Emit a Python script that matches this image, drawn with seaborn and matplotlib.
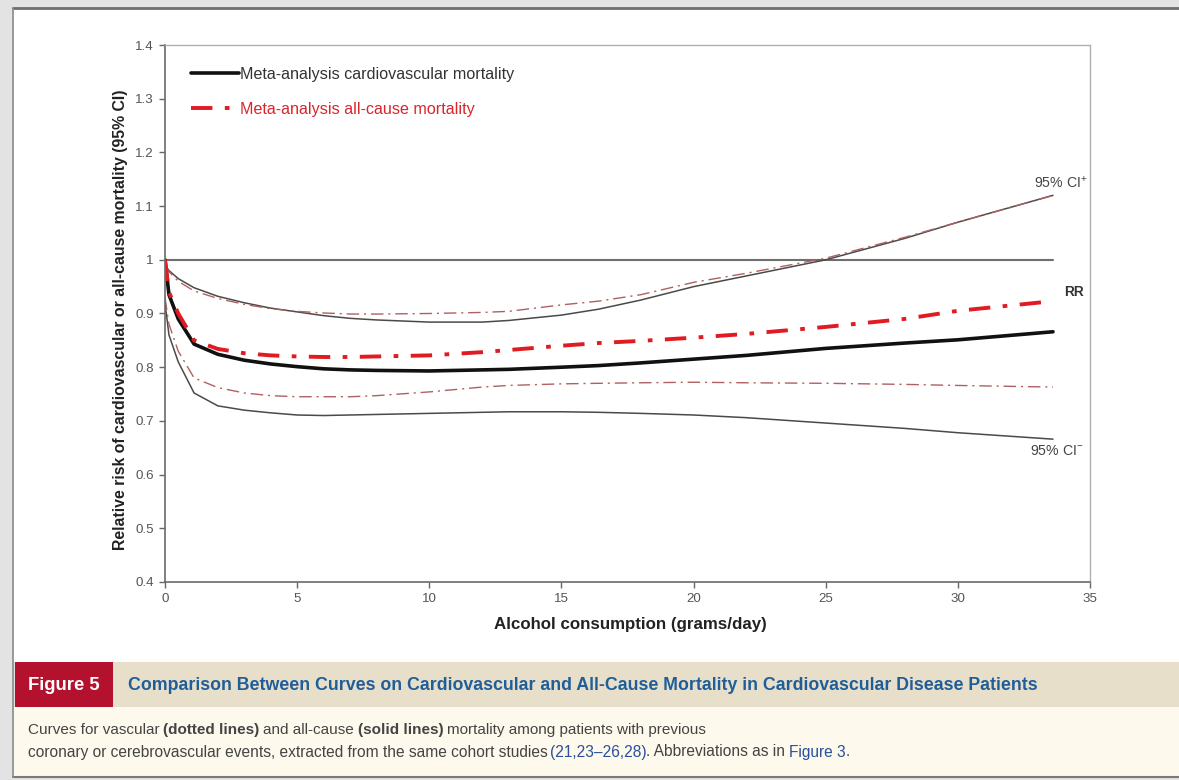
import matplotlib
matplotlib.use("Agg")
import numpy as np
import pandas as pd
import matplotlib.pyplot as plt
from matplotlib import font_manager
from matplotlib.patches import Rectangle
from matplotlib.lines import Line2D
from matplotlib.transforms import IdentityTransform
from matplotlib.ticker import FuncFormatter
import seaborn as sns

# ---- data: alcohol intake (g/day) and relative risk curves ----
alcohol_g = [0, 0.15, 0.5, 1.1, 2, 3, 4, 5, 6, 7, 8, 10, 12, 13, 15, 16.4,
             18, 20, 22, 25, 28, 30, 33.6]

# cardiovascular mortality (black)
cv_rr = [1.0, 0.935, 0.89, 0.843, 0.824, 0.813, 0.806, 0.801, 0.797, 0.795,
         0.794, 0.793, 0.795, 0.796, 0.800, 0.803, 0.808, 0.815, 0.822, 0.835,
         0.845, 0.851, 0.866]
cv_hi = [0.99, 0.98, 0.965, 0.948, 0.932, 0.920, 0.910, 0.903, 0.896, 0.891,
         0.888, 0.884, 0.884, 0.887, 0.897, 0.908, 0.925, 0.950, 0.970, 1.000,
         1.040, 1.070, 1.120]
cv_lo = [0.92, 0.86, 0.81, 0.752, 0.728, 0.720, 0.715, 0.711, 0.710, 0.711,
         0.712, 0.714, 0.716, 0.717, 0.717, 0.716, 0.714, 0.711, 0.706, 0.696,
         0.686, 0.678, 0.666]

# all-cause mortality (red)
ac_rr = [1.0, 0.94, 0.90, 0.850, 0.834, 0.826, 0.822, 0.820, 0.819, 0.819,
         0.820, 0.822, 0.828, 0.832, 0.840, 0.845, 0.849, 0.855, 0.862, 0.875,
         0.890, 0.905, 0.923]
ac_hi = [0.99, 0.978, 0.96, 0.942, 0.928, 0.917, 0.909, 0.904, 0.901, 0.899,
         0.899, 0.900, 0.902, 0.904, 0.916, 0.923, 0.935, 0.958, 0.975, 1.003,
         1.042, 1.070, 1.120]
ac_lo = [0.93, 0.88, 0.83, 0.780, 0.762, 0.752, 0.747, 0.745, 0.745, 0.745,
         0.747, 0.754, 0.763, 0.766, 0.769, 0.770, 0.771, 0.772, 0.771, 0.770,
         0.768, 0.766, 0.763]

reference_x = [0, 33.6]
reference_y = [1.0, 1.0]

y_ticks = [0.4, 0.5, 0.6, 0.7, 0.8, 0.9, 1.0, 1.1, 1.2, 1.3, 1.4]
x_ticks = [0, 5, 10, 15, 20, 25, 30, 35]

legend_labels = ["Meta-analysis cardiovascular mortality",
                 "Meta-analysis all-cause mortality"]

df = pd.DataFrame({"alcohol": alcohol_g, "cv_rr": cv_rr, "cv_hi": cv_hi,
                   "cv_lo": cv_lo, "ac_rr": ac_rr, "ac_hi": ac_hi,
                   "ac_lo": ac_lo})
ref = pd.DataFrame({"alcohol": reference_x, "rr": reference_y})

# ---- style ----
sns.set_style("white")
available = {f.name for f in font_manager.fontManager.ttflist}
BASE = "Liberation Sans" if "Liberation Sans" in available else "DejaVu Sans"
NARROW = "Liberation Sans Narrow" if "Liberation Sans Narrow" in available else BASE
plt.rcParams["font.family"] = [BASE, "DejaVu Sans"]
plt.rcParams["mathtext.fontset"] = "custom"
plt.rcParams["mathtext.rm"] = BASE

W, H = 1179, 780
fig = plt.figure(figsize=(W / 100, H / 100), dpi=100, facecolor="#e3e3e3")
PX = IdentityTransform()


def box(x0, y0, x1, y1, color):
    """Filled rectangle given in pixel coordinates measured from the top."""
    fig.add_artist(Rectangle((x0, H - y1), x1 - x0, y1 - y0, transform=PX,
                             facecolor=color, edgecolor="none", zorder=0))


def hline(x0, x1, y, color, lw):
    fig.add_artist(Line2D([x0, x1], [H - y, H - y], transform=PX, color=color,
                          lw=lw, zorder=1))


# page panel
box(13, 8, W + 5, 662, "white")
box(13, 707, W + 5, 777, "#fdf9ec")
box(113, 662, W + 5, 707, "#e8dfcb")
box(15, 662, 113, 707, "#b3112d")
hline(13, W + 5, 8, "#6e6e6e", 2.0)
hline(13, W + 5, 777, "#7a7a7a", 1.5)
fig.add_artist(Line2D([13, 13], [H - 8, H - 777], transform=PX,
                      color="#8a8a8a", lw=1.2, zorder=1))

# ---- chart ----
ax = fig.add_axes([165 / W, 1 - 582 / H, (1090 - 165) / W, (582 - 45) / H])
ax.set_facecolor("white")

sns.lineplot(data=ref, x="alcohol", y="rr", ax=ax, color="#6f6f6f", lw=1.5)

ci_black = dict(color="#4a4a4a", lw=1.1)
ci_red = dict(color="#b06060", lw=1.0, linestyle=(0, (9, 3.5, 1.5, 3.5)))
sns.lineplot(data=df, x="alcohol", y="cv_hi", ax=ax, **ci_black)
sns.lineplot(data=df, x="alcohol", y="cv_lo", ax=ax, **ci_black)
sns.lineplot(data=df, x="alcohol", y="ac_hi", ax=ax, **ci_red)
sns.lineplot(data=df, x="alcohol", y="ac_lo", ax=ax, **ci_red)

sns.lineplot(data=df, x="alcohol", y="cv_rr", ax=ax, color="#111111", lw=2.6,
             label=legend_labels[0])
sns.lineplot(data=df, x="alcohol", y="ac_rr", ax=ax, color="#e01b22", lw=2.8,
             linestyle=(0, (5.5, 3.2, 1.2, 3.2)), label=legend_labels[1])

ax.set_xlim(0, 35)
ax.set_ylim(0.4, 1.4)
ax.set_xticks(x_ticks)
ax.set_yticks(y_ticks)
ax.yaxis.set_major_formatter(FuncFormatter(lambda v, p: f"{v:g}"))
ax.tick_params(axis="both", which="major", direction="out", length=4,
               width=1, color="#666666", labelsize=9.6, labelcolor="#555555",
               pad=4, left=True, bottom=True)

for side in ("left", "bottom"):
    ax.spines[side].set_color("#6a6a6a")
    ax.spines[side].set_linewidth(1.2)
for side in ("top", "right"):
    ax.spines[side].set_color("#b0b0b0")
    ax.spines[side].set_linewidth(1.0)

ax.set_ylabel("Relative risk of cardiovascular or all-cause mortality (95% CI)",
              fontsize=11.4, fontweight="bold", color="#222222")
ax.yaxis.set_label_coords(-0.040, 0.488)
ax.set_xlabel("Alcohol consumption (grams/day)", fontsize=12.2,
              fontweight="bold", color="#222222")
ax.xaxis.set_label_coords(0.503, -0.066)

# curve labels at the right end
ax.text(34.9, 1.143, r"95% CI$^{+}$", ha="right", va="center", fontsize=10.2,
        color="#444444")
ax.text(34.75, 0.94, "RR", ha="right", va="center", fontsize=9.8,
        fontweight="bold", color="#333333")
ax.text(34.75, 0.644, r"95% CI$^{-}$", ha="right", va="center", fontsize=10.2,
        color="#444444")

handles, labels = ax.get_legend_handles_labels()
leg = ax.legend(handles, labels, loc="upper left", frameon=False,
                bbox_to_anchor=(191, H - 67), bbox_transform=PX,
                borderaxespad=0, borderpad=0, handlelength=3.0,
                handletextpad=0.06, labelspacing=1.22, fontsize=11.6)
for txt, col in zip(leg.get_texts(), ["#333333", "#d8262c"]):
    txt.set_color(col)

# ---- caption ----
renderer = fig.canvas.get_renderer()


def fitted_text(x, y, s, target_w, **kw):
    t = fig.text(x, H - y, s, transform=PX, va="center", ha="left", **kw)
    w = t.get_window_extent(renderer).width
    t.set_fontsize(t.get_fontsize() * target_w / w)
    return t


fitted_text(28, 685, "Figure 5", 72, fontsize=11, fontweight="bold",
            color="white", family=[NARROW, "DejaVu Sans"])
fitted_text(128, 685,
            "Comparison Between Curves on Cardiovascular and All-Cause "
            "Mortality in Cardiovascular Disease Patients", 913,
            fontsize=10.5, fontweight="bold", color="#1f5e98",
            family=[NARROW, "DejaVu Sans"])


def run_line(x0, y, runs, target_w, size):
    """Lay out styled text runs one after another on a single line."""
    fam = [NARROW, "DejaVu Sans"]
    probe = fig.text(0, 0, "a a", fontsize=size, family=fam, transform=PX)
    probe2 = fig.text(0, 0, "aa", fontsize=size, family=fam, transform=PX)
    space = (probe.get_window_extent(renderer).width
             - probe2.get_window_extent(renderer).width)
    probe.remove()
    probe2.remove()
    arts = []
    total = 0
    for s, weight, color, gap in runs:
        t = fig.text(0, H - y, s, fontsize=size, fontweight=weight,
                     color=color, family=fam, transform=PX, va="center")
        w = t.get_window_extent(renderer).width
        arts.append((t, w, gap))
        total += w + (space if gap else 0)
    scale = target_w / total
    x = x0
    for t, w, gap in arts:
        t.set_fontsize(size * scale)
        t.set_x(x)
        x += (w + (space if gap else 0)) * scale


grey, blue = "#444444", "#2a4f9c"
run_line(28, 730, [
    ("Curves for vascular", "normal", grey, True),
    ("(dotted lines)", "bold", grey, True),
    ("and all-cause", "normal", grey, True),
    ("(solid lines)", "bold", grey, True),
    ("mortality among patients with previous", "normal", grey, False),
], 678, 8.5)
run_line(28, 752, [
    ("coronary or cerebrovascular events, extracted from the same cohort studies",
     "normal", grey, True),
    ("(21,23\u201326,28)", "normal", blue, False),
    (". Abbreviations as in", "normal", grey, True),
    ("Figure 3", "normal", blue, False),
    (".", "normal", grey, False),
], 822, 8.5)

fig.savefig("out.png", dpi=100, facecolor=fig.get_facecolor())
